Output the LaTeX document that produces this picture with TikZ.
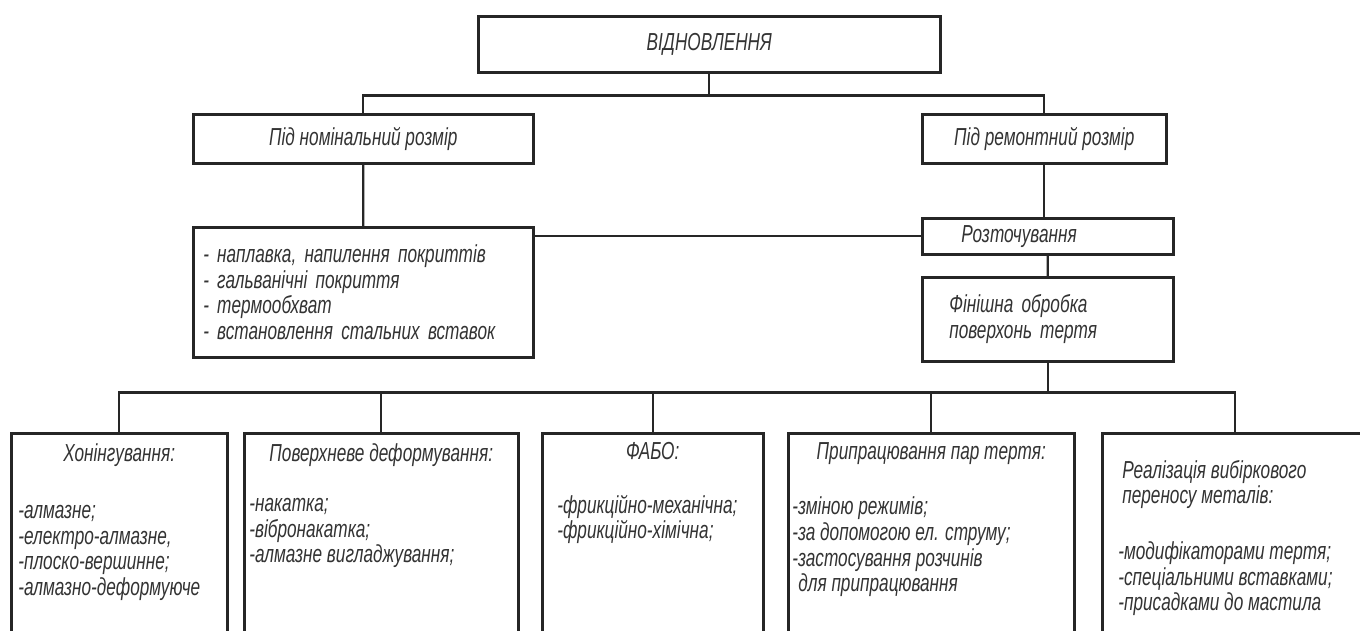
\documentclass[tikz,border=0pt]{standalone}
\usepackage{fontspec}
\setmainfont{Liberation Sans}[FakeStretch=0.7]
\usetikzlibrary{calc, positioning}

\tikzset{
	box/.style={draw=black!85, line width=1.5pt, inner sep=0pt, anchor=north west, text=black!80},
	link/.style={draw=black!85, line width=1.3pt},
}

\begin{document}
\exhyphenpenalty=10000
\begin{tikzpicture}[x=0.02cm, y=-0.02cm, font=\fontsize{14}{14.6}\selectfont\itshape]
	\useasboundingbox (0,0) rectangle (1360,630);
	\clip (0,0) rectangle (1360,630);

	% --- upper part ---
	\node[box, minimum width=9.24cm, minimum height=1.12cm] (top) at (477,15) {ВІДНОВЛЕННЯ};
	\node[box, minimum width=6.8cm, minimum height=0.98cm] (nominal) at (192,113) {Під номінальний розмір};
	\node[box, minimum width=4.88cm, minimum height=0.98cm] (repair) at (921,113) {Під ремонтний розмір};
	\node[box, minimum height=2.6cm, inner xsep=0.2cm, text width=6.4cm, align=left] (methods) at (192,226)
		{- наплавка, напилення покриттів\\ - гальванічні покриття\\ - термообхват\\ - встановлення стальних вставок};
	\node[box, minimum height=0.72cm, inner xsep=0.78cm, text width=3.46cm, align=left] (bore) at (921,217) {Розточування};
	\node[box, minimum height=1.68cm, inner xsep=0.54cm, text width=3.94cm, align=left] (finish) at (921,276)
		{Фінішна обробка\\ поверхонь тертя};

	% --- lower part ---
	\node[box, inner xsep=0.14cm] (hon) at (10,432) {\begin{minipage}[t][4.16cm][t]{4.04cm}
		{\centering\rule{0pt}{0.56cm}Хонінгування:\par}\vspace{18pt}\raggedright
		-алмазне;\\ -електро-алмазне,\\ -плоско-вершинне;\\ -алмазно-деформуюче
	\end{minipage}};
	\node[box, inner xsep=0.1cm] (surf) at (243,432) {\begin{minipage}[t][4.16cm][t]{5.28cm}
		{\centering\rule{0pt}{0.56cm}Поверхневе деформування:\par}\vspace{14pt}\raggedright
		-накатка;\\ -вібронакатка;\\ -алмазне вигладжування;
	\end{minipage}};
	\node[box, inner xsep=0.3cm] (fabo) at (541,432) {\begin{minipage}[t][4.16cm][t]{3.82cm}
		{\centering\rule{0pt}{0.52cm}ФАБО:\par}\vspace{16pt}\raggedright
		-фрикційно-механічна;\\ -фрикційно-хімічна;
	\end{minipage}};
	\node[box, inner xsep=0.08cm] (runin) at (787,432) {\begin{minipage}[t][4.16cm][t]{5.56cm}
		{\centering\rule{0pt}{0.52cm}Припрацювання пар тертя:\par}\vspace{17pt}\raggedright
		-зміною режимів;\\ -за допомогою ел. струму;\\ -застосування розчинів\\ \hspace*{0.12cm}для припрацювання
	\end{minipage}};
	\node[box, inner xsep=0.32cm] (transfer) at (1101,432) {\begin{minipage}[t][4.16cm][t]{4.68cm}\raggedright
		\hspace*{0.08cm}\rule{0pt}{0.9cm}Реалізація вибіркового\\ \hspace*{0.08cm}переносу металів:\par\vspace{17pt}
		-модифікаторами тертя;\\ -спеціальними вставками;\\ -присадками до мастила
	\end{minipage}};

	% --- connectors ---
	\draw[link] (top.south) -- ++(0,22) coordinate (split);
	\draw[link] (nominal.north) |- (split) -| (repair.north);
	\draw[link] (nominal.south) -- (methods.north);
	\draw[link] (repair.south) -- (repair.south |- bore.north);
	\draw[link] (bore.west) -- (bore.west -| methods.east);
	\draw[link] (bore.south) -- (finish.north);
	\draw[link] (finish.south) -- ++(0,30) coordinate (bus);
	\draw[link] (hon.north) |- (bus) -| (transfer.north);
	\foreach \n in {surf, fabo, runin}
		\draw[link] (\n.north) -- (\n.north |- bus);
\end{tikzpicture}
\end{document}
